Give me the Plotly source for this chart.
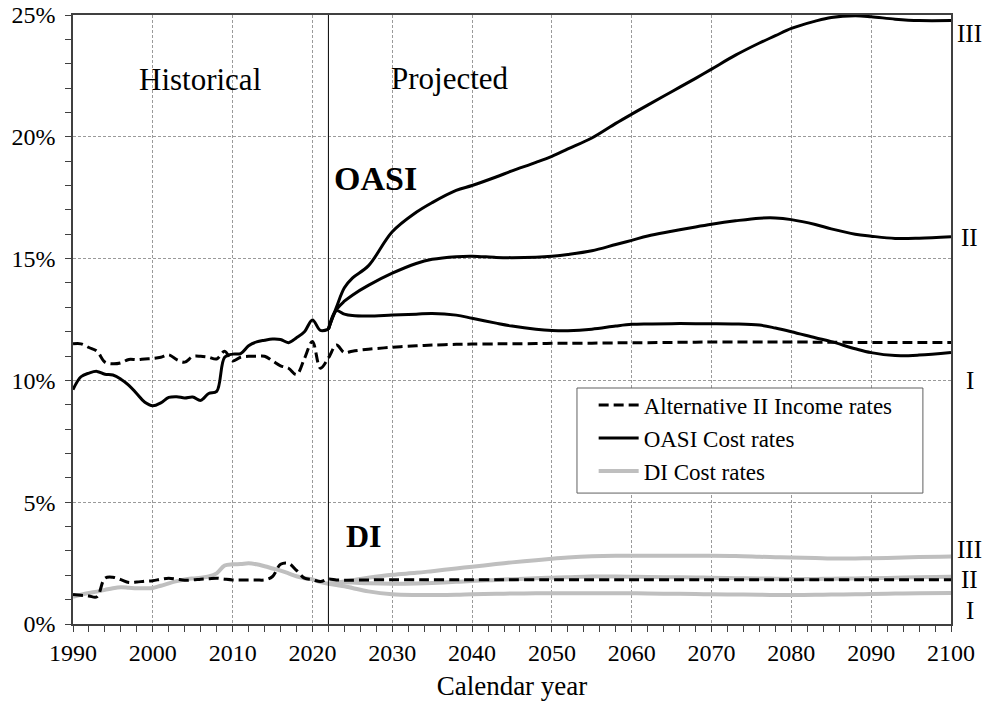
import plotly.graph_objects as go

# ---------------- data ----------------
hist_years = list(range(1990, 2023))
oasi_cost_hist = [9.62, 10.15, 10.3, 10.37, 10.25, 10.22, 10.05, 9.8, 9.45, 9.1, 8.96,
                  9.08, 9.3, 9.33, 9.28, 9.32, 9.18, 9.46, 9.55, 10.95, 11.08, 11.1,
                  11.42, 11.58, 11.65, 11.7, 11.68, 11.55, 11.75, 12.0, 12.48, 12.05, 12.1]
oasi_income_hist = [11.5, 11.5, 11.35, 11.2, 10.75, 10.68, 10.72, 10.86, 10.85, 10.88, 10.9,
                    10.95, 11.05, 10.85, 10.75, 10.98, 10.99, 10.95, 10.88, 11.2, 10.8, 10.95,
                    10.99, 10.99, 10.99, 10.8, 10.6, 10.5, 10.24, 10.9, 11.6, 10.5, 10.92]
di_cost_hist = [1.12, 1.2, 1.27, 1.33, 1.4, 1.47, 1.51, 1.49, 1.47, 1.47, 1.48,
                1.57, 1.67, 1.76, 1.83, 1.87, 1.9, 1.95, 2.08, 2.4, 2.45, 2.46,
                2.49, 2.45, 2.37, 2.28, 2.19, 2.08, 1.96, 1.88, 1.83, 1.72, 1.65]
di_income_hist = [1.21, 1.18, 1.15, 1.12, 1.88, 1.92, 1.82, 1.7, 1.72, 1.76, 1.78,
                  1.84, 1.88, 1.84, 1.8, 1.81, 1.84, 1.86, 1.88, 1.84, 1.81, 1.81,
                  1.81, 1.81, 1.81, 1.95, 2.45, 2.49, 2.2, 1.88, 1.82, 1.74, 1.85]

proj_years = [2022, 2023, 2024, 2025, 2027, 2030, 2033, 2035, 2038, 2040, 2043, 2045,
              2048, 2050, 2052, 2055, 2058, 2060, 2062, 2065, 2068, 2070, 2073, 2076,
              2078, 2080, 2083, 2085, 2088, 2090, 2093, 2096, 2100]
oasi_cost_III = [12.1, 13.0, 13.8, 14.2, 14.7, 16.1, 16.9, 17.3, 17.8, 18.0, 18.35, 18.6,
                 18.95, 19.2, 19.5, 19.95, 20.55, 20.93, 21.3, 21.85, 22.4, 22.78, 23.35, 23.85,
                 24.15, 24.45, 24.75, 24.9, 24.97, 24.93, 24.83, 24.77, 24.77]
oasi_cost_II = [12.1, 12.9, 13.25, 13.5, 13.9, 14.4, 14.8, 14.97, 15.08, 15.1, 15.05, 15.04,
                15.06, 15.1, 15.17, 15.32, 15.58, 15.75, 15.93, 16.12, 16.3, 16.41, 16.55, 16.66,
                16.67, 16.6, 16.4, 16.22, 16.0, 15.92, 15.83, 15.84, 15.9]
oasi_cost_I = [12.1, 12.86, 12.72, 12.66, 12.64, 12.68, 12.72, 12.75, 12.68, 12.55, 12.35, 12.23,
               12.1, 12.05, 12.04, 12.1, 12.23, 12.3, 12.32, 12.33, 12.33, 12.33, 12.32, 12.27,
               12.15, 12.0, 11.75, 11.59, 11.3, 11.14, 11.02, 11.04, 11.15]
oasi_income_proj = [10.92, 11.45, 11.14, 11.2, 11.28, 11.36, 11.42, 11.45, 11.48, 11.49, 11.5, 11.5,
                    11.51, 11.52, 11.52, 11.53, 11.54, 11.55, 11.55, 11.56, 11.57, 11.58, 11.58, 11.58,
                    11.58, 11.58, 11.57, 11.57, 11.56, 11.56, 11.56, 11.56, 11.56]
di_cost_III = [1.65, 1.7, 1.75, 1.8, 1.9, 2.02, 2.1, 2.17, 2.28, 2.35, 2.46, 2.53,
               2.62, 2.68, 2.73, 2.78, 2.8, 2.8, 2.8, 2.8, 2.8, 2.8, 2.79, 2.76,
               2.74, 2.73, 2.71, 2.69, 2.69, 2.7, 2.72, 2.75, 2.77]
di_cost_II = [1.65, 1.68, 1.7, 1.7, 1.67, 1.65, 1.66, 1.68, 1.73, 1.77, 1.81, 1.84,
              1.88, 1.9, 1.92, 1.95, 1.95, 1.94, 1.93, 1.92, 1.91, 1.9, 1.88, 1.87,
              1.86, 1.85, 1.85, 1.86, 1.87, 1.88, 1.9, 1.92, 1.94]
di_cost_I = [1.65, 1.6, 1.55, 1.48, 1.34, 1.22, 1.19, 1.19, 1.2, 1.22, 1.24, 1.25,
             1.26, 1.26, 1.26, 1.26, 1.26, 1.26, 1.25, 1.24, 1.23, 1.22, 1.21, 1.2,
             1.19, 1.19, 1.2, 1.21, 1.22, 1.23, 1.25, 1.26, 1.27]
di_income_proj = [1.85, 1.81, 1.8, 1.8, 1.81, 1.82, 1.82, 1.82, 1.82, 1.82, 1.82, 1.82,
                  1.82, 1.82, 1.82, 1.82, 1.82, 1.82, 1.82, 1.82, 1.82, 1.82, 1.82, 1.82,
                  1.82, 1.82, 1.82, 1.82, 1.82, 1.82, 1.82, 1.82, 1.82]

x_ticks = list(range(1990, 2101, 10))
y_ticks = [0, 5, 10, 15, 20, 25]
y_tick_labels = ["0%", "5%", "10%", "15%", "20%", "25%"]
alt_labels = ["I", "II", "III"]

# ---------------- figure ----------------
FONT = "Liberation Serif, Times New Roman, serif"
BLACK = "#000000"
GRAY = "#BFBFBF"
DASH = "10px,5px"

fig = go.Figure()

inc_years = hist_years + proj_years[1:]
oasi_inc = oasi_income_hist + oasi_income_proj[1:]
di_inc = di_income_hist + di_income_proj[1:]

# DI cost (gray)
fig.add_trace(go.Scatter(x=hist_years, y=di_cost_hist, mode="lines", name="DI Cost rates",
                         line=dict(color=GRAY, width=4, shape="spline"),
                         showlegend=False, legendgroup="c"))
for vals in (di_cost_I, di_cost_II, di_cost_III):
    fig.add_trace(go.Scatter(x=proj_years, y=vals, mode="lines", name="DI Cost rates",
                             line=dict(color=GRAY, width=4, shape="spline"),
                             showlegend=False, legendgroup="c"))

# income rates (dashed)
fig.add_trace(go.Scatter(x=inc_years, y=oasi_inc, mode="lines", name="Alternative II Income rates",
                         line=dict(color=BLACK, width=3, dash=DASH, shape="spline"),
                         legendgroup="a", legendrank=1))
fig.add_trace(go.Scatter(x=inc_years, y=di_inc, mode="lines", name="Alternative II Income rates",
                         line=dict(color=BLACK, width=3, dash=DASH, shape="spline"),
                         showlegend=False, legendgroup="a"))

# OASI cost (black)
fig.add_trace(go.Scatter(x=hist_years, y=oasi_cost_hist, mode="lines", name="OASI Cost rates",
                         line=dict(color=BLACK, width=3, shape="spline"),
                         legendgroup="b", legendrank=2))
for vals in (oasi_cost_I, oasi_cost_II, oasi_cost_III):
    fig.add_trace(go.Scatter(x=proj_years, y=vals, mode="lines", name="OASI Cost rates",
                             line=dict(color=BLACK, width=3, shape="spline"),
                             showlegend=False, legendgroup="b"))

# legend-only entry for DI
fig.add_trace(go.Scatter(x=[None], y=[None], mode="lines", name="DI Cost rates",
                         line=dict(color=GRAY, width=4), legendgroup="c", legendrank=3))

# vertical divider at 2022
fig.add_shape(type="line", x0=2022, x1=2022, y0=0, y1=1, yref="paper", xref="x",
              line=dict(color=BLACK, width=1))

# legend frame
fig.add_shape(type="rect", xref="paper", yref="paper", x0=0.574, x1=0.968, y0=0.215, y1=0.3875,
              line=dict(color="#606060", width=1), fillcolor="white", layer="above")

# text annotations
ann = [
    dict(x=2005.9, y=22.35, text="Historical", font=dict(size=31)),
    dict(x=2037.2, y=22.4, text="Projected", font=dict(size=31)),
    dict(x=2027.9, y=18.3, text="<b>OASI</b>", font=dict(size=34)),
    dict(x=2026.5, y=3.6, text="<b>DI</b>", font=dict(size=32)),
]
for a in ann:
    fig.add_annotation(xref="x", yref="y", showarrow=False, font_family=FONT,
                       font_color=BLACK, **a)

right_labels = [
    (oasi_cost_III[-1] - 0.51, alt_labels[2]),
    (oasi_cost_II[-1] - 0.05, alt_labels[1]),
    (oasi_cost_I[-1] - 1.17, alt_labels[0]),
    (di_cost_III[-1] + 0.27, alt_labels[2]),
    (di_cost_II[-1] - 0.13, alt_labels[1]),
    (di_cost_I[-1] - 0.7, alt_labels[0]),
]
for yv, t in right_labels:
    fig.add_annotation(xref="paper", yref="y", x=1.0216, xanchor="center", y=yv, text=t,
                       showarrow=False, font=dict(family=FONT, size=25, color=BLACK))

axis_common = dict(showline=True, linecolor="#404040", linewidth=1.5, mirror=True,
                   ticks="outside", ticklen=6, tickcolor="#404040", tickwidth=1,
                   showgrid=True, gridcolor="#9a9a9a", griddash="3px,2px", gridwidth=1,
                   zeroline=False, automargin=False, ticklabeloverflow="allow",
                   tickfont=dict(family=FONT, size=24, color=BLACK))

fig.update_xaxes(range=[1990, 2100], tickvals=x_ticks,
                 minor=dict(dtick=2, tick0=1990, ticks="outside", ticklen=6, tickcolor="#404040",
                            showgrid=False),
                 title=dict(text="Calendar year", font=dict(family=FONT, size=27, color=BLACK),
                            standoff=17),
                 **axis_common)
fig.update_yaxes(range=[0, 25], tickvals=y_ticks, ticktext=y_tick_labels, ticklabelstandoff=5,
                 minor=dict(dtick=1, tick0=0, ticks="outside", ticklen=6, tickcolor="#404040",
                            showgrid=False),
                 **axis_common)

fig.update_layout(
    width=995, height=701,
    margin=dict(l=73, r=44, t=15, b=77),
    plot_bgcolor="white", paper_bgcolor="white",
    font=dict(family=FONT, color=BLACK),
    hovermode=False,
    legend=dict(x=0.593, y=0.3947, xanchor="left", yanchor="top",
                bgcolor="rgba(0,0,0,0)", borderwidth=0,
                font=dict(family=FONT, size=23, color=BLACK),
                tracegroupgap=3, itemwidth=40, traceorder="normal"),
)

fig.write_html("out.html", config={"displayModeBar": False},
               post_script="document.body.style.margin='0';document.body.style.overflow='hidden';")
